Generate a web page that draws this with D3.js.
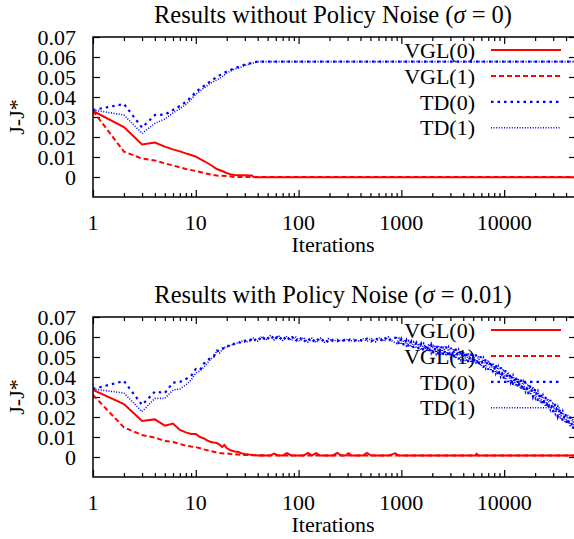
<!DOCTYPE html>
<html>
<head>
<meta charset="utf-8">
<script src="https://cdn.jsdelivr.net/npm/d3@7"></script>
<style>
  body { margin: 0; background: #fff; }
  svg { display: block; font-family: "Liberation Serif", "Times New Roman", serif; }
</style>
</head>
<body>
<svg id="chart" width="574" height="539"></svg>
<script>
// ---- data ----
const seriesNames = ['VGL(0)', 'VGL(1)', 'TD(0)', 'TD(1)'];
const yTicks = [0, 0.01, 0.02, 0.03, 0.04, 0.05, 0.06, 0.07];
const xTicks = [1, 10, 100, 1000, 10000];

// [iteration, J-J*] -- no policy noise
const vgl0NoNoise = [[1,0.033],[2,0.025],[3,0.0163],[4,0.0172],[5,0.0152],[6,0.0138],[7,0.0128],[8,0.0118],[9,0.011],[10,0.0102],[12,0.008],[14,0.006],[16,0.004],[18,0.003],[20,0.002],[22,0.0012],[24,0.001],[35,0.0008],[37,-0.0001],[50000,-0.0001]];
const vgl1NoNoise = [[1,0.033],[2,0.0127],[3,0.0092],[4,0.0083],[5,0.0068],[6,0.0058],[7,0.0048],[8,0.004],[10,0.003],[12,0.002],[14,0.0012],[16,0.0007],[20,0.0005],[24,0],[50000,0]];
const td0NoNoise = [[1,0.0335],[2,0.0365],[3,0.0247],[4,0.031],[5,0.0312],[6,0.0335],[7,0.0355],[8,0.0375],[9,0.04],[10,0.0425],[12,0.0455],[14,0.048],[16,0.05],[18,0.0515],[20,0.0527],[24,0.0545],[27,0.0553],[30,0.0562],[36,0.0572],[40,0.0577],[50000,0.0577]];
const td1NoNoise = [[1,0.0335],[2,0.031],[3,0.0218],[4,0.0268],[5,0.029],[6,0.032],[7,0.0342],[8,0.0362],[9,0.0388],[10,0.0413],[12,0.0445],[14,0.047],[16,0.0485],[18,0.05],[20,0.052],[24,0.054],[27,0.0547],[30,0.0558],[36,0.057],[40,0.0577],[50000,0.0577]];

// [iteration, J-J*] -- policy noise sigma = 0.01
const vgl0Noise = [[1,0.0335],[2,0.0265],[3,0.018],[4,0.0188],[5,0.0157],[6,0.0167],[7,0.0135],[8,0.0123],[9,0.0115],[10,0.0115],[11,0.01],[12,0.0093],[13,0.0082],[14,0.0075],[15,0.0072],[16,0.007],[17,0.0062],[18,0.005],[19,0.006],[20,0.0045],
  [22,0.0032],[24,0.0028],[26,0.0025],[28,0.0018],[30,0.0015],[33,0.0012],[36,0.001],[40,0.0008],[44,0.0009],[48,0.0007],
  [53,0.0008],[58,0.0017],[64,0.0007],[70,0.0008],[77,0.0019],[85,0.0008],[93,0.0007],[102,0.0008],[112,0.0007],[123,0.002],[135,0.0008],[148,0.0019],[163,0.0007],[179,0.0008],[197,0.0007],
  [216,0.0008],[238,0.002],[262,0.0007],[288,0.0008],[305,0.0019],[330,0.0007],[383,0.0008],[421,0.0007],[463,0.002],[509,0.0007],[616,0.0008],[745,0.0007],[870,0.0018],[950,0.0007],
  [2000,0.0008],[5200,0.0007],[5400,0.0016],[5600,0.0007],[20000,0.0008],[50000,0.0007]];
const vgl1Noise = [[1,0.031],[2,0.0148],[3,0.011],[4,0.0097],[5,0.008],[6,0.0075],[7,0.0065],[8,0.0057],[9,0.0053],[10,0.005],[11,0.0044],[12,0.0038],[13,0.0034],[14,0.003],[15,0.0026],[16,0.0022],[17,0.002],[18,0.0019],[19,0.0018],[20,0.0018],
  [22,0.0015],[24,0.0013],[26,0.0012],[28,0.0011],[30,0.001],[40,0.0008],[50000,0.0008]];
const td0Noise = [[1,0.034],[2,0.038],[3,0.026],[4,0.0327],[5,0.032],[6,0.0372],[7,0.0375],[8,0.039],[9,0.0405],[10,0.044],[11,0.0435],[12,0.0468],[13,0.048],[14,0.05],[15,0.0505],[16,0.0532],[17,0.053],[18,0.0542],[19,0.0545],[20,0.0558],
  [22,0.0552],[24,0.057],[26,0.0575],[28,0.0568],[30,0.058],
  [33,0.0592],[36,0.0574],[40,0.06],[44,0.058],[48,0.0606],[53,0.0584],[58,0.061],[64,0.0582],[70,0.0606],[77,0.058],[85,0.0608],[93,0.0578],
  [102,0.06],[112,0.0574],[123,0.0596],[135,0.0572],[148,0.0596],[163,0.0574],[179,0.0592],[197,0.057],
  [216,0.0586],[238,0.0578],[262,0.059],[288,0.0576],[317,0.0588],[348,0.058],[383,0.059],[421,0.0578],[463,0.0592],[509,0.0578],[560,0.0596],[616,0.0576],[678,0.0602],[745,0.0578],[820,0.0598],
  [900,0.0595],[950,0.0563],[1000,0.059],[1060,0.0557],[1120,0.0584],[1180,0.0551],[1250,0.0577],[1320,0.0544],[1400,0.0571],[1480,0.0538],
  [1560,0.0566],[1650,0.053],[1750,0.0563],[1850,0.0524],[1950,0.0561],[2060,0.0516],[2180,0.056],[2300,0.0511],[2430,0.0557],[2570,0.0505],
  [2720,0.0552],[2880,0.05],[3040,0.0546],[3220,0.0493],[3400,0.0541],[3600,0.0487],[3800,0.0534],[4020,0.048],[4250,0.0526],[4500,0.0471],
  [4750,0.0518],[5020,0.0466],[5300,0.0512],[5600,0.0457],[5930,0.0503],[6270,0.0447],[6630,0.0492],[7000,0.0436],[7400,0.0479],[7830,0.0421],
  [8280,0.0464],[8750,0.0405],[9250,0.0449],[9780,0.039],[10340,0.0434],[10930,0.0375],[11560,0.0418],[12220,0.036],[12920,0.0403],[13660,0.0345],
  [14440,0.0388],[15270,0.033],[16140,0.0373],[17060,0.0315],[18040,0.0358],[19070,0.0302],[20160,0.0342],[21310,0.028],[22530,0.0321],[23820,0.026],
  [25180,0.0302],[26620,0.0243],[28140,0.0285],[29750,0.0225],[31450,0.0265],[33250,0.0203],[35150,0.0241],[37160,0.0178],[39280,0.022],[41530,0.016],
  [43900,0.0201],[46410,0.014],[49070,0.018],[50000,0.0128]];
const td1Noise = [[1,0.034],[2,0.032],[3,0.0227],[4,0.0293],[5,0.0293],[6,0.0335],[7,0.034],[8,0.036],[9,0.0385],[10,0.042],[11,0.043],[12,0.045],[13,0.047],[14,0.049],[15,0.05],[16,0.053],[17,0.052],[18,0.0535],[19,0.0548],[20,0.055],
  [22,0.056],[24,0.0565],[26,0.0572],[28,0.0578],[30,0.0575],
  [33,0.0578],[36,0.0596],[40,0.058],[44,0.0604],[48,0.0584],[53,0.0606],[58,0.0586],[64,0.0608],[70,0.0584],[77,0.0604],[85,0.0582],[93,0.0602],
  [102,0.0578],[112,0.0598],[123,0.0574],[135,0.0594],[148,0.0572],[163,0.0594],[179,0.0574],[197,0.0592],
  [216,0.0578],[238,0.0588],[262,0.058],[288,0.059],[317,0.0578],[348,0.0588],[383,0.058],[421,0.0592],[463,0.0578],[509,0.0594],[560,0.0576],[616,0.0598],[678,0.0578],[745,0.06],[820,0.0578],
  [900,0.0568],[950,0.0592],[1000,0.0562],[1060,0.0586],[1120,0.0556],[1180,0.058],[1250,0.0549],[1320,0.0574],[1400,0.0543],[1480,0.0568],
  [1560,0.0534],[1650,0.0567],[1750,0.0528],[1850,0.0565],[1950,0.052],[2060,0.0562],[2180,0.0515],[2300,0.0558],[2430,0.051],[2570,0.0554],
  [2720,0.0505],[2880,0.0548],[3040,0.0498],[3220,0.0542],[3400,0.0492],[3600,0.0536],[3800,0.0486],[4020,0.0528],[4250,0.0478],[4500,0.052],
  [4750,0.0472],[5020,0.0512],[5300,0.0464],[5600,0.0504],[5930,0.0455],[6270,0.0496],[6630,0.0444],[7000,0.0484],[7400,0.0431],[7830,0.047],
  [8280,0.0416],[8750,0.0454],[9250,0.0401],[9780,0.044],[10340,0.0386],[10930,0.0424],[11560,0.037],[12220,0.0409],[12920,0.0355],[13660,0.0394],
  [14440,0.034],[15270,0.0379],[16140,0.0325],[17060,0.0364],[18040,0.0311],[19070,0.0351],[20160,0.0294],[21310,0.033],[22530,0.0271],[23820,0.031],
  [25180,0.0252],[26620,0.0292],[28140,0.0235],[29750,0.0274],[31450,0.0215],[33250,0.0252],[35150,0.0191],[37160,0.023],[39280,0.017],[41530,0.021],
  [43900,0.015],[46410,0.019],[49070,0.013],[50000,0.016]];

// ---- styling ----
const lineStyles = [
  { color: '#ff0000', dash: null, width: 2 },
  { color: '#ff0000', dash: '5,3', width: 2 },
  { color: '#0000ff', dash: '2.5,4', width: 2.2 },
  { color: '#0000ff', dash: '1,1.6', width: 1.6 }
];

const svg = d3.select('#chart');
const left = 93, right = 576, plotH = 160;
const fontSize = 22;

const x = d3.scaleLog().domain([1, 50000]).range([left, right]);

// minor ticks 2..9 per decade
const minorTicks = [];
for (let d = 1; d <= 10000; d *= 10) {
  for (let k = 2; k <= 9; k++) if (d * k <= 50000) minorTicks.push(d * k);
}

function drawPanel(top, titleStart, titleValue, data, id) {
  const g = svg.append('g');
  const y = d3.scaleLinear().domain([-0.01, 0.07]).range([top + plotH, top]);

  // title
  const t = g.append('text')
    .attr('x', 333).attr('y', top - 23).attr('dy', '0.35em')
    .attr('text-anchor', 'middle').attr('font-size', 24.5);
  t.append('tspan').text(titleStart + ' (');
  t.append('tspan').attr('font-style', 'italic').text('σ');
  t.append('tspan').text(' = ' + titleValue + ')');

  // ticks (gnuplot style: inward, mirrored)
  const axes = [
    [d3.axisBottom(x).tickValues(xTicks).tickSize(-7), top + plotH, 0],
    [d3.axisBottom(x).tickValues(minorTicks).tickSize(-4), top + plotH, 0],
    [d3.axisTop(x).tickValues(xTicks).tickSize(-7), top, 0],
    [d3.axisTop(x).tickValues(minorTicks).tickSize(-4), top, 0],
    [d3.axisLeft(y).tickValues(yTicks).tickSize(-7), 0, left],
    [d3.axisRight(y).tickValues(yTicks).tickSize(-7), 0, right]
  ];
  axes.forEach(([ax, ty, tx]) => {
    const a = g.append('g').attr('transform', `translate(${tx},${ty})`)
      .call(ax.tickFormat(''));
    a.select('.domain').remove();
    a.selectAll('line').attr('stroke', '#000').attr('stroke-width', 1.2);
  });

  // tick labels
  g.selectAll('.ylab').data(yTicks).enter().append('text')
    .attr('x', left - 17).attr('y', d => y(d)).attr('dy', '0.35em')
    .attr('text-anchor', 'end').attr('font-size', fontSize)
    .text(d => d === 0 ? '0' : d.toFixed(2));
  g.selectAll('.xlab').data(xTicks).enter().append('text')
    .attr('x', d => x(d)).attr('y', top + plotH + 25).attr('dy', '0.35em')
    .attr('text-anchor', 'middle').attr('font-size', fontSize)
    .text(d => String(d));

  // axis titles
  g.append('text')
    .attr('x', 333).attr('y', top + plotH + 47).attr('dy', '0.35em')
    .attr('text-anchor', 'middle').attr('font-size', fontSize)
    .text('Iterations');
  g.append('text')
    .attr('transform', `translate(16,${top + 80}) rotate(-90)`)
    .attr('dy', '0.35em').attr('text-anchor', 'middle').attr('font-size', fontSize)
    .text('J-J*');

  // legend
  seriesNames.forEach((name, i) => {
    const ly = top + 13 + i * 25.9;
    g.append('text')
      .attr('x', 475).attr('y', ly).attr('dy', '0.35em')
      .attr('text-anchor', 'end').attr('font-size', fontSize)
      .text(name);
    g.append('line')
      .attr('x1', 491).attr('x2', 561).attr('y1', ly).attr('y2', ly)
      .attr('stroke', lineStyles[i].color)
      .attr('stroke-width', lineStyles[i].width)
      .attr('stroke-dasharray', lineStyles[i].dash);
  });

  // curves
  g.append('clipPath').attr('id', 'clip' + id)
    .append('rect').attr('x', left).attr('y', top)
    .attr('width', right - left).attr('height', plotH);
  const line = d3.line().x(d => x(d[0])).y(d => y(d[1]));
  const curves = g.append('g').attr('clip-path', `url(#clip${id})`);
  data.forEach((s, i) => {
    curves.append('path')
      .attr('d', line(s))
      .attr('fill', 'none')
      .attr('stroke', lineStyles[i].color)
      .attr('stroke-width', lineStyles[i].width)
      .attr('stroke-dasharray', lineStyles[i].dash);
  });

  // frame
  g.append('rect')
    .attr('x', left).attr('y', top)
    .attr('width', right - left).attr('height', plotH)
    .attr('fill', 'none').attr('stroke', '#000').attr('stroke-width', 1.5);
}

drawPanel(37, 'Results without Policy Noise', '0',
  [vgl0NoNoise, vgl1NoNoise, td0NoNoise, td1NoNoise], 'a');
drawPanel(317, 'Results with Policy Noise', '0.01',
  [vgl0Noise, vgl1Noise, td0Noise, td1Noise], 'b');
</script>
</body>
</html>
